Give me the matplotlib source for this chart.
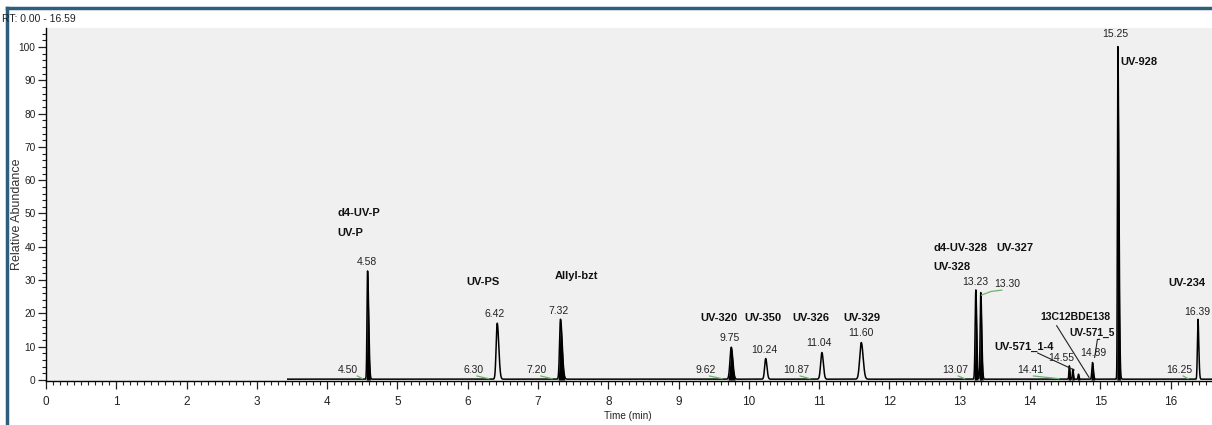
import matplotlib
matplotlib.use('Agg')
import matplotlib.pyplot as plt
import numpy as np
from matplotlib.lines import Line2D
from matplotlib.ticker import MultipleLocator

plt.rcParams['font.family'] = ['Liberation Sans', 'DejaVu Sans']

# peaks: retention time (min), height (%), left/right widths (min)
peak_rt = [4.575, 6.42, 7.32, 9.75, 10.24, 11.04, 11.60, 13.23, 13.30,
           14.56, 14.61, 14.69, 14.89, 15.25, 16.39]
peak_height = [32.5, 16.8, 18.0, 9.6, 6.2, 8.0, 11.0, 26.8, 26.0,
               4.0, 3.0, 1.5, 5.0, 100.0, 18.0]
peak_wl = [0.008, 0.015, 0.013, 0.018, 0.015, 0.018, 0.022, 0.010, 0.009,
           0.006, 0.006, 0.006, 0.009, 0.006, 0.008]
peak_wr = [0.016, 0.022, 0.024, 0.022, 0.018, 0.020, 0.026, 0.012, 0.014,
           0.008, 0.008, 0.008, 0.012, 0.015, 0.012]
peak_filled = [True, False, True, True, False, False, False, True, True,
               True, True, True, True, True, False]

trace_start = 3.44
rt_end = 16.59

# retention-time labels above peaks
rt_labels = ['4.58', '6.42', '7.32', '9.75', '10.24', '11.04', '11.60',
             '13.23', '13.30', '14.55', '14.89', '15.25', '16.39']
rt_label_x = [4.56, 6.39, 7.29, 9.72, 10.22, 11.00, 11.59,
              13.22, 13.67, 14.45, 14.90, 15.22, 16.38]
rt_label_y = [35.4, 19.8, 20.7, 12.6, 9.0, 11.1, 14.1,
              29.4, 28.8, 6.6, 8.0, 104.0, 20.4]

# baseline start labels with their green segments
base_rt = [4.50, 6.30, 7.20, 9.62, 10.87, 13.07, 14.41, 16.25]
base_labels = ['4.50', '6.30', '7.20', '9.62', '10.87', '13.07', '14.41', '16.25']
base_label_x = [4.29, 6.08, 6.98, 9.38, 10.68, 12.93, 14.00, 16.13]
base_line_from = [4.43, 6.13, 7.04, 9.44, 10.73, 12.98, 14.05, 16.18]

# compound names
names_txt = ['d4-UV-P', 'UV-P', 'UV-PS', 'Allyl-bzt', 'UV-320', 'UV-350',
             'UV-326', 'UV-329', 'd4-UV-328', 'UV-327', 'UV-328',
             'UV-571_1-4', '13C12BDE138', 'UV-571_5', 'UV-928', 'UV-234']
names_x = [4.15, 4.15, 5.98, 7.24, 9.31, 9.94, 10.62, 11.34, 12.63, 13.52,
           12.63, 13.49, 14.15, 14.56, 15.28, 15.97]
names_y = [50.1, 44.1, 29.4, 31.2, 18.6, 18.6, 18.6, 18.6, 39.6, 39.6,
           33.9, 9.9, 18.9, 14.1, 95.5, 29.1]
names_size = [8, 8, 8, 8, 8, 8, 8, 8, 8, 8, 8, 8, 7.6, 7.4, 8, 8]

NUM = 7.5    # small numeric labels


def peak_shape(t, rt, h, wl, wr):
    w = np.where(t < rt, wl, wr)
    return h * np.exp(-0.5 * ((t - rt) / w) ** 2)


fig = plt.figure(figsize=(12.12, 4.25), dpi=100)
ax = fig.add_axes([46 / 1212, 44 / 425, 1 - 46 / 1212, 353 / 425])
ax.set_facecolor('#f0f0f0')

t = np.linspace(trace_start, rt_end, 12000)
y = np.full_like(t, 0.25)
for rt, h, wl, wr in zip(peak_rt, peak_height, peak_wl, peak_wr):
    y = y + peak_shape(t, rt, h, wl, wr)

for rt, wl, wr, filled in zip(peak_rt, peak_wl, peak_wr, peak_filled):
    if filled:
        m = (t > rt - 2.5 * wl) & (t < rt + 2.5 * wr)
        ax.fill_between(t[m], 0, y[m], color='black', lw=0)
ax.plot(t, y, color='black', lw=1.1)

ax.set_xlim(0, rt_end)
ax.set_ylim(-0.3, 105.7)
for s in ['top', 'right']:
    ax.spines[s].set_visible(False)
for s in ['left', 'bottom']:
    ax.spines[s].set_linewidth(1.0)
ax.xaxis.set_major_locator(MultipleLocator(1))
ax.xaxis.set_minor_locator(MultipleLocator(0.1))
ax.yaxis.set_major_locator(MultipleLocator(10))
ax.yaxis.set_minor_locator(MultipleLocator(2))
ax.tick_params(which='major', length=6, width=0.9, pad=1.5, colors='#222222')
ax.tick_params(which='minor', length=3, width=0.8, colors='#222222')
ax.tick_params(axis='x', which='major', pad=5, labelsize=8.5)
ax.tick_params(axis='y', which='major', labelsize=7.3)

for lab, x, yy in zip(rt_labels, rt_label_x, rt_label_y):
    ax.text(x, yy, lab, fontsize=NUM, ha='center', va='center', color='#222222')

for lab, x, x0, rt in zip(base_labels, base_label_x, base_line_from, base_rt):
    ax.text(x, 3.0, lab, fontsize=NUM, ha='center', va='center', color='#222222')
    ax.plot([x0, rt], [1.2, 0.4], color='#6fb36f', lw=0.9)

# green segment from the 13.30 apex up to its label
ax.plot([13.31, 13.45, 13.60], [25.5, 26.6, 27.0], color='#6fb36f', lw=0.9)

for lab, x, yy, fs in zip(names_txt, names_x, names_y, names_size):
    ax.text(x, yy, lab, fontsize=fs, fontweight='bold', ha='left',
            va='center', color='#111111')

# leader lines
ax.plot([14.11, 14.63], [8.1, 3.0], color='#222222', lw=0.8)
ax.plot([14.38, 14.84], [16.3, 0.8], color='#222222', lw=0.8)
ax.plot([14.99, 14.96, 14.92], [12.2, 12.2, 6.8], color='#222222', lw=0.8)

fig.text(628 / 1212, 1 - 416 / 425, 'Time (min)', fontsize=7.2,
         ha='center', va='center', color='#222222')
fig.text(17 / 1212, 1 - 214 / 425, 'Relative Abundance', rotation=90,
         fontsize=9, ha='center', va='center', color='#333333')
fig.text(2 / 1212, 1 - 19 / 425, 'RT: 0.00 - 16.59', fontsize=7.5,
         ha='left', va='center', color='#222222')

# window frame
frame = '#2f5d7c'
fig.add_artist(Line2D([7 / 1212, 7 / 1212], [0, 1 - 8 / 425], color=frame,
                      lw=2.5, transform=fig.transFigure))
fig.add_artist(Line2D([7 / 1212, 1], [1 - 8 / 425, 1 - 8 / 425], color=frame,
                      lw=2.5, transform=fig.transFigure))

fig.savefig('out.png', dpi=100)
